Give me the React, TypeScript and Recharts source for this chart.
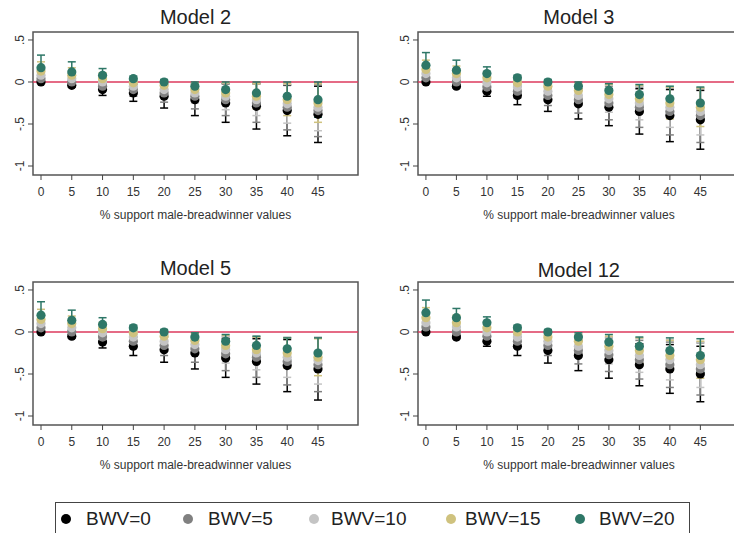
import React from 'react';
import { ScatterChart, Scatter, XAxis, YAxis, ErrorBar, ReferenceLine, ReferenceArea } from 'recharts';

const supportLevels = [0, 5, 10, 15, 20, 25, 30, 35, 40, 45];
const seriesNames = ['BWV=0', 'BWV=5', 'BWV=10', 'BWV=15', 'BWV=20'];
const seriesColors = ['#000000', '#808080', '#c4c4c4', '#cfc27e', '#2e7767'];
const modelTitles = ['Model 2', 'Model 3', 'Model 5', 'Model 12'];
const yTicks = [-1, -0.5, 0, 0.5];
const xAxisTitle = '% support male-breadwinner values';

// Model 2: point estimates per BWV series and CI half-widths
const model2Means = [
  [0.0, -0.04, -0.09, -0.13, -0.17, -0.21, -0.25, -0.29, -0.34, -0.385],
  [0.04, 0.0, -0.05, -0.09, -0.13, -0.17, -0.21, -0.25, -0.3, -0.34],
  [0.08, 0.04, 0.0, -0.05, -0.09, -0.13, -0.17, -0.21, -0.26, -0.3],
  [0.13, 0.08, 0.04, -0.01, -0.04, -0.09, -0.13, -0.17, -0.21, -0.25],
  [0.17, 0.12, 0.08, 0.04, 0.0, -0.05, -0.09, -0.13, -0.17, -0.21],
];
const model2Ci = [
  [0.0, 0.02, 0.07, 0.1, 0.14, 0.19, 0.23, 0.27, 0.3, 0.335],
  [0.04, 0.03, 0.05, 0.08, 0.11, 0.15, 0.19, 0.23, 0.27, 0.31],
  [0.08, 0.06, 0.05, 0.06, 0.08, 0.12, 0.16, 0.19, 0.23, 0.28],
  [0.11, 0.09, 0.07, 0.05, 0.05, 0.08, 0.12, 0.15, 0.19, 0.23],
  [0.15, 0.12, 0.08, 0.03, 0.03, 0.05, 0.09, 0.13, 0.17, 0.21],
];

// Model 3
const model3Means = [
  [0.0, -0.05, -0.11, -0.16, -0.21, -0.26, -0.3, -0.35, -0.4, -0.45],
  [0.05, 0.0, -0.06, -0.11, -0.16, -0.21, -0.25, -0.3, -0.35, -0.4],
  [0.1, 0.05, -0.01, -0.06, -0.11, -0.16, -0.2, -0.25, -0.3, -0.35],
  [0.15, 0.1, 0.05, -0.01, -0.05, -0.1, -0.15, -0.2, -0.25, -0.3],
  [0.2, 0.14, 0.1, 0.05, 0.0, -0.05, -0.1, -0.15, -0.2, -0.25],
];
const model3Ci = [
  [0.0, 0.02, 0.06, 0.11, 0.14, 0.18, 0.22, 0.27, 0.31, 0.35],
  [0.04, 0.03, 0.05, 0.08, 0.12, 0.16, 0.2, 0.24, 0.28, 0.32],
  [0.08, 0.06, 0.05, 0.06, 0.09, 0.12, 0.16, 0.2, 0.24, 0.28],
  [0.11, 0.09, 0.07, 0.05, 0.05, 0.08, 0.12, 0.16, 0.19, 0.23],
  [0.15, 0.12, 0.08, 0.03, 0.03, 0.05, 0.08, 0.12, 0.15, 0.19],
];

// Model 5
const model5Means = [
  [0.0, -0.05, -0.12, -0.17, -0.21, -0.25, -0.31, -0.35, -0.4, -0.44],
  [0.05, 0.0, -0.06, -0.11, -0.16, -0.2, -0.26, -0.3, -0.35, -0.39],
  [0.1, 0.05, -0.01, -0.06, -0.11, -0.15, -0.21, -0.25, -0.3, -0.34],
  [0.15, 0.1, 0.04, -0.01, -0.05, -0.1, -0.16, -0.21, -0.25, -0.3],
  [0.2, 0.14, 0.09, 0.05, 0.0, -0.06, -0.11, -0.16, -0.2, -0.25],
];
const model5Ci = [
  [0.0, 0.02, 0.07, 0.11, 0.15, 0.19, 0.23, 0.27, 0.31, 0.37],
  [0.04, 0.03, 0.05, 0.08, 0.12, 0.16, 0.2, 0.24, 0.28, 0.32],
  [0.08, 0.06, 0.05, 0.06, 0.09, 0.12, 0.16, 0.2, 0.24, 0.28],
  [0.12, 0.09, 0.07, 0.05, 0.05, 0.08, 0.12, 0.15, 0.18, 0.22],
  [0.16, 0.12, 0.08, 0.03, 0.03, 0.05, 0.08, 0.11, 0.13, 0.18],
];

// Model 12
const model12Means = [
  [0.0, -0.06, -0.11, -0.17, -0.22, -0.28, -0.33, -0.39, -0.44, -0.5],
  [0.06, 0.0, -0.05, -0.11, -0.16, -0.22, -0.27, -0.33, -0.39, -0.44],
  [0.11, 0.06, 0.0, -0.06, -0.11, -0.17, -0.22, -0.28, -0.33, -0.39],
  [0.17, 0.11, 0.05, 0.0, -0.06, -0.11, -0.17, -0.22, -0.28, -0.33],
  [0.23, 0.17, 0.11, 0.05, 0.0, -0.06, -0.12, -0.17, -0.22, -0.28],
];
const model12Ci = [
  [0.0, 0.02, 0.06, 0.11, 0.15, 0.18, 0.22, 0.25, 0.29, 0.33],
  [0.04, 0.03, 0.05, 0.08, 0.12, 0.16, 0.2, 0.23, 0.27, 0.31],
  [0.08, 0.06, 0.05, 0.06, 0.09, 0.13, 0.16, 0.2, 0.24, 0.27],
  [0.12, 0.09, 0.07, 0.05, 0.05, 0.08, 0.12, 0.15, 0.18, 0.22],
  [0.15, 0.11, 0.07, 0.03, 0.03, 0.05, 0.09, 0.11, 0.15, 0.2],
];

const FONT = '"Liberation Sans", Arial, Helvetica, sans-serif';
const X_DOMAIN: [number, number] = [-1.3, 51.5];
const Y_DOMAIN: [number, number] = [-1.107, 0.595];

const fmtY = (v: number) => {
  if (v === 0) return '0';
  return String(v).replace('0.', '.');
};

const YTick = (props: any) => {
  const { x, y, payload } = props;
  return (
    <text
      x={x}
      y={y}
      transform={`rotate(-90 ${x} ${y})`}
      textAnchor="middle"
      fontSize={12}
      fill="#333"
      fontFamily={FONT}
    >
      {fmtY(payload.value)}
    </text>
  );
};

const Dot = (color: string) => (props: any) => {
  const { cx, cy } = props;
  if (cx == null || cy == null) return <g />;
  return <circle cx={cx} cy={cy} r={4.6} fill={color} stroke="none" />;
};

type PanelProps = {
  left: number;
  top: number;
  plotW: number;
  title: string;
  titleTop: number;
  means: number[][];
  cis: number[][];
};

function Panel({ left, top, plotW, title, titleTop, means, cis }: PanelProps) {
  const yAxisW = 33;
  const mTop = 32;
  const mRight = 12;
  const xAxisH = 50;
  const mBottom = 10;
  const plotH = 143;
  const width = yAxisW + plotW + mRight;
  const height = mTop + plotH + xAxisH + mBottom;
  const centerX = left + yAxisW + plotW / 2;

  return (
    <>
      <div
        style={{
          position: 'absolute',
          left: centerX - 100,
          top: titleTop,
          width: 200,
          textAlign: 'center',
          fontFamily: FONT,
          fontSize: 20,
          lineHeight: '20px',
          color: '#222',
        }}
      >
        {title}
      </div>
      <div style={{ position: 'absolute', left, top, width, height }}>
        <ScatterChart
          width={width}
          height={height}
          margin={{ top: mTop, right: mRight, bottom: mBottom, left: 0 }}
        >
          <XAxis
            type="number"
            dataKey="x"
            domain={X_DOMAIN}
            ticks={supportLevels}
            allowDataOverflow
            height={xAxisH}
            axisLine={false}
            tickSize={5}
            tickMargin={7}
            tickLine={{ stroke: '#444', strokeWidth: 1 }}
            tick={{ fontSize: 12, fill: '#333', fontFamily: FONT }}
            label={{
              value: xAxisTitle,
              position: 'insideBottom',
              offset: 6,
              fontSize: 12,
              fill: '#333',
              fontFamily: FONT,
            }}
          />
          <YAxis
            type="number"
            dataKey="y"
            domain={Y_DOMAIN}
            ticks={yTicks}
            allowDataOverflow
            width={yAxisW}
            axisLine={false}
            tickSize={5}
            tickMargin={4}
            tickLine={{ stroke: '#444', strokeWidth: 1 }}
            tick={<YTick />}
          />
          <ReferenceArea
            x1={X_DOMAIN[0]}
            x2={X_DOMAIN[1]}
            y1={Y_DOMAIN[0]}
            y2={Y_DOMAIN[1]}
            fill="none"
            stroke="#555"
            strokeWidth={1.5}
            ifOverflow="visible"
          />
          <ReferenceLine y={0} stroke="#dc3a5c" strokeWidth={1.6} ifOverflow="visible" />
          {seriesNames.map((name, si) => {
            const data = supportLevels.map((x, i) => ({
              x,
              y: means[si][i],
              err: cis[si][i],
            }));
            return (
              <Scatter
                key={name}
                name={name}
                data={data}
                isAnimationActive={false}
                shape={Dot(seriesColors[si])}
                fill={seriesColors[si]}
              >
                <ErrorBar
                  dataKey="err"
                  direction="y"
                  width={4}
                  stroke={seriesColors[si]}
                  strokeWidth={1.5}
                  isAnimationActive={false}
                />
              </Scatter>
            );
          })}
        </ScatterChart>
      </div>
    </>
  );
}

const legendMarkerX = [66, 188, 314, 451, 580];
const legendTextX = [86, 208, 331, 465, 599];

export default function App() {
  return (
    <div
      style={{
        position: 'absolute',
        left: 0,
        top: 0,
        width: 734,
        height: 533,
        overflow: 'hidden',
        background: '#fff',
        fontFamily: FONT,
      }}
    >
      <Panel left={0} top={0} plotW={325} title={modelTitles[0]} titleTop={7} means={model2Means} cis={model2Ci} />
      <Panel left={384.8} top={0} plotW={322} title={modelTitles[1]} titleTop={7} means={model3Means} cis={model3Ci} />
      <Panel left={0} top={250} plotW={325} title={modelTitles[2]} titleTop={258} means={model5Means} cis={model5Ci} />
      <Panel left={384.8} top={250} plotW={322} title={modelTitles[3]} titleTop={260} means={model12Means} cis={model12Ci} />
      <div
        style={{
          position: 'absolute',
          left: 55,
          top: 502,
          width: 635,
          height: 40,
          border: '1px solid #444',
          boxSizing: 'border-box',
        }}
      />
      {seriesNames.map((name, i) => (
        <React.Fragment key={name}>
          <div
            style={{
              position: 'absolute',
              left: legendMarkerX[i] - 5,
              top: 514,
              width: 10,
              height: 10,
              borderRadius: '50%',
              background: seriesColors[i],
            }}
          />
          <div
            style={{
              position: 'absolute',
              left: legendTextX[i],
              top: 508,
              fontSize: 19,
              lineHeight: '22px',
              color: '#222',
              whiteSpace: 'nowrap',
            }}
          >
            {name}
          </div>
        </React.Fragment>
      ))}
    </div>
  );
}
